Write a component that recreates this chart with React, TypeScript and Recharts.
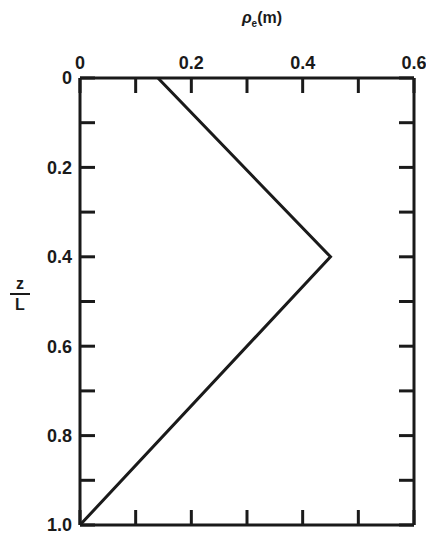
import { LineChart, Line, XAxis, YAxis } from "recharts";

// depth ratio z/L against rho (m)
const DEPTH = [0, 0.4, 1.0];
const RHO = [0.14, 0.45, 0];

const RHO_TICKS = [0, 0.1, 0.2, 0.3, 0.4, 0.5, 0.6];
const DEPTH_TICKS = [0, 0.1, 0.2, 0.3, 0.4, 0.5, 0.6, 0.7, 0.8, 0.9, 1.0];
const RHO_LABELS = ["0", "0.2", "0.4", "0.6"];
const DEPTH_LABELS = ["0", "0.2", "0.4", "0.6", "0.8", "1.0"];

const data = DEPTH.map((z, i) => ({ z, rho: RHO[i] }));

const INK = "#1a1a1a";
const FONT = "'Liberation Sans', Arial, sans-serif";
const tickStyle = { fontSize: 18, fontWeight: 700, fill: INK, fontFamily: FONT };
const axisStyle = { stroke: INK, strokeWidth: 3 };

function pickLabel(labels: string[]) {
  return (v: number) => {
    const s = v === 0 ? "0" : v.toFixed(1);
    return labels.includes(s) ? s : "";
  };
}

export default function App() {
  return (
    <div style={{ position: "absolute", left: 0, top: 0, width: 426, height: 534, background: "#fff" }}>
      <LineChart
        layout="vertical"
        width={426}
        height={534}
        data={data}
        margin={{ top: 0, right: 11, bottom: 8, left: 0 }}
      >
        <XAxis
          xAxisId="top"
          orientation="top"
          type="number"
          dataKey="rho"
          domain={[0, 0.6]}
          ticks={RHO_TICKS}
          allowDataOverflow
          height={78}
          tickSize={-15}
          tickMargin={24}
          tick={tickStyle}
          tickLine={axisStyle}
          axisLine={axisStyle}
          tickFormatter={pickLabel(RHO_LABELS)}
          interval={0}
        />
        <XAxis
          xAxisId="bottom"
          orientation="bottom"
          type="number"
          dataKey="rho"
          domain={[0, 0.6]}
          ticks={RHO_TICKS}
          allowDataOverflow
          height={1}
          tickSize={-15}
          tickFormatter={() => ""}
          tickLine={axisStyle}
          axisLine={axisStyle}
          interval={0}
        />
        <YAxis
          yAxisId="left"
          orientation="left"
          type="number"
          dataKey="z"
          domain={[0, 1]}
          ticks={DEPTH_TICKS}
          allowDataOverflow
          width={80}
          tickSize={-15}
          tickMargin={23}
          tick={tickStyle}
          tickLine={axisStyle}
          axisLine={axisStyle}
          tickFormatter={pickLabel(DEPTH_LABELS)}
          interval={0}
        />
        <YAxis
          yAxisId="right"
          orientation="right"
          type="number"
          dataKey="z"
          domain={[0, 1]}
          ticks={DEPTH_TICKS}
          allowDataOverflow
          width={1}
          tickSize={-15}
          tickFormatter={() => ""}
          tickLine={axisStyle}
          axisLine={axisStyle}
          interval={0}
        />
        <Line
          xAxisId="top"
          yAxisId="left"
          dataKey="rho"
          type="linear"
          stroke={INK}
          strokeWidth={3}
          dot={false}
          isAnimationActive={false}
        />
        {/* same profile on the opposite frame axes, so they get a domain and draw */}
        <Line
          xAxisId="bottom"
          yAxisId="right"
          dataKey="rho"
          type="linear"
          stroke="none"
          dot={false}
          activeDot={false}
          isAnimationActive={false}
        />
      </LineChart>
      <div
        style={{
          position: "absolute",
          left: 228,
          top: 9,
          width: 68,
          textAlign: "center",
          fontFamily: FONT,
          fontWeight: 700,
          fontSize: 16,
          color: INK,
        }}
      >
        <i>ρ</i>
        <sub style={{ fontSize: 10 }}>e</sub>(m)
      </div>
      <div
        style={{
          position: "absolute",
          left: 10,
          top: 276,
          width: 20,
          textAlign: "center",
          fontFamily: FONT,
          fontWeight: 700,
          fontSize: 16,
          lineHeight: "16px",
          color: INK,
        }}
      >
        <div style={{ borderBottom: `2px solid ${INK}`, paddingBottom: 1 }}>z</div>
        <div style={{ paddingTop: 2 }}>L</div>
      </div>
    </div>
  );
}
